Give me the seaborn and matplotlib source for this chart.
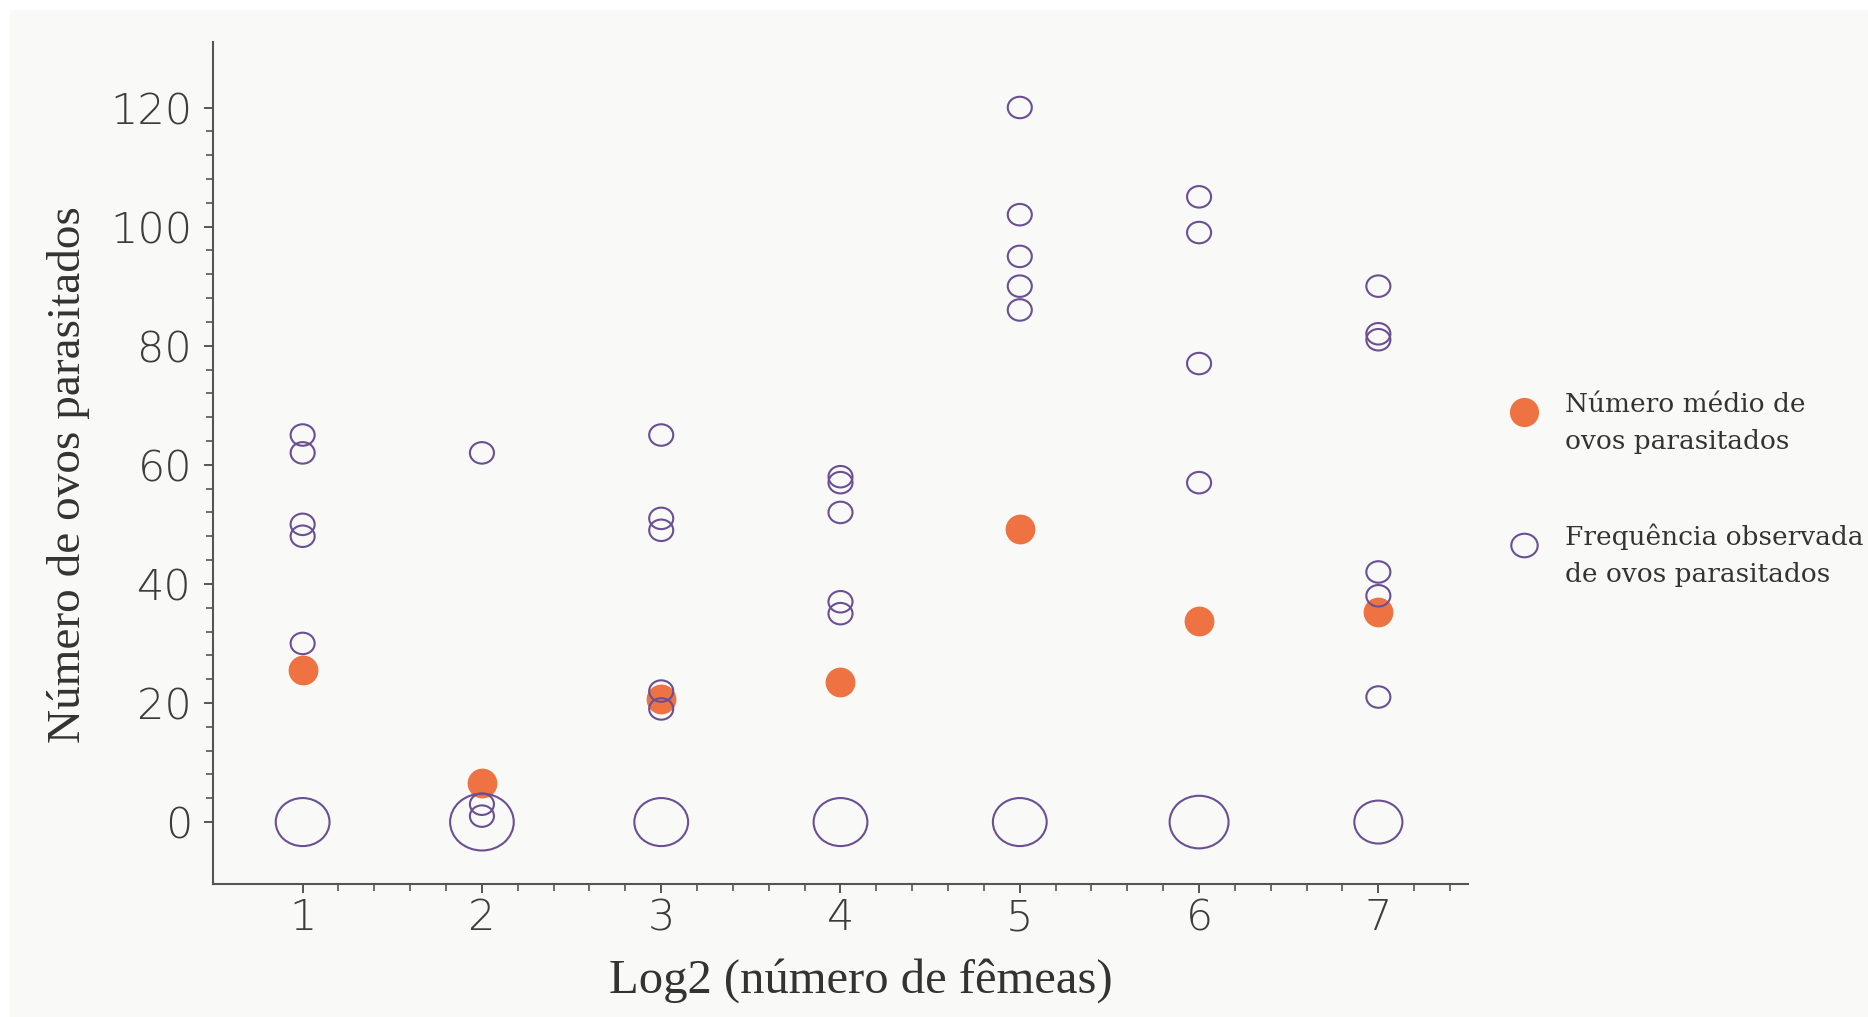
#!/usr/bin/env python3

"""Número de ovos parasitados vs Log2 (número de fêmeas) - scatter com frequências."""

import numpy as np
import pandas as pd
import seaborn as sns
import matplotlib.pyplot as plt
from matplotlib.path import Path
from matplotlib.transforms import Affine2D
from matplotlib.lines import Line2D
from matplotlib.patches import Rectangle
from matplotlib.ticker import FixedLocator

# DADOS
log2_femeas = [1, 2, 3, 4, 5, 6, 7]
media_ovos = [25.5, 6.5, 20.6, 23.6, 49.2, 33.8, 35.3]
freq_zeros = [5, 7, 5, 5, 5, 6, 4]     # quantas repetições com zero ovos

# observações não nulas (cada uma com frequência 1)
obs_x = [1, 1, 1, 1, 1,
         2, 2, 2,
         3, 3, 3, 3, 3,
         4, 4, 4, 4, 4,
         5, 5, 5, 5, 5,
         6, 6, 6, 6,
         7, 7, 7, 7, 7, 7]
obs_y = [65, 62, 50, 48, 30,
         62, 3, 1,
         65, 51, 49, 22, 19,
         58, 57, 52, 37, 35,
         120, 102, 95, 90, 86,
         105, 99, 77, 57,
         90, 82, 81, 42, 38, 21]

# textos
xlabel = "Log2 (número de fêmeas)"
ylabel = "Número de ovos parasitados"
leg_media = "Número médio de\novos parasitados"
leg_freq = "Frequência observada\nde ovos parasitados"

# CORES
roxo = "#6a4f95"
laranja = "#ee7242"
fundo = "#f9f9f7"

sns.set_theme(style="ticks")
plt.rcParams["font.family"] = ["DejaVu Sans"]

obs = pd.DataFrame({
    "x": obs_x + log2_femeas,
    "ovos": obs_y + [0] * len(log2_femeas),
    "freq": [1] * len(obs_x) + freq_zeros,
})
medias = pd.DataFrame({"x": log2_femeas, "ovos": media_ovos})

# marcador levemente elíptico (como no original)
elipse = Affine2D().scale(1.12, 1.0).transform_path(Path.unit_circle())
s_unit = 300  # área (pt^2) para frequência 1

W, H = 1868, 1017
fig = plt.figure(figsize=(W / 100, H / 100), dpi=100, facecolor="white")
fig.add_artist(Rectangle((10 / W, 0), 1, 1 - 10 / H, transform=fig.transFigure,
                         facecolor=fundo, edgecolor="none", zorder=-10))
ax = fig.add_axes([213 / W, 1 - 884 / H, 1255 / W, 842 / H])
ax.set_facecolor(fundo)

# médias (laranja, preenchido)
sns.scatterplot(data=medias, x="x", y="ovos", ax=ax, color=laranja,
                s=460, linewidth=0, legend=False, zorder=2)

# frequências observadas (círculos vazios, área ~ frequência)
sns.scatterplot(data=obs, x="x", y="ovos", size="freq", ax=ax,
                sizes=(0, 7 * s_unit), size_norm=(0, 7),
                marker=elipse, facecolor="none", edgecolor=roxo,
                linewidth=1.5, legend=False, zorder=3)

ax.set_xlim(0.5, 7.5)
ax.set_ylim(-10.4, 131)
ax.set_xticks(log2_femeas)
ax.set_yticks(range(0, 121, 20))
ax.xaxis.set_minor_locator(FixedLocator(np.arange(1, 7.45, 0.2)))
ax.yaxis.set_minor_locator(FixedLocator(np.arange(0, 121, 4)))

sns.despine(ax=ax)
for sp in ["left", "bottom"]:
    ax.spines[sp].set_linewidth(1.5)
    ax.spines[sp].set_color("#555555")

ax.tick_params(which="major", length=6.5, width=1.4, color="#555555",
               labelsize=31, labelcolor="#3c3c3c")
ax.tick_params(which="minor", length=5, width=1.2, color="#555555")
ax.tick_params(axis="y", which="major", pad=8.5)
ax.tick_params(axis="x", which="major", pad=3)
for lab in ax.get_xticklabels() + ax.get_yticklabels():
    lab.set_fontweight("light")

ax.set_xlabel(xlabel, fontfamily="Liberation Serif", fontsize=35, color="#333333")
ax.set_ylabel(ylabel, fontfamily="Liberation Serif", fontsize=34, color="#333333")
ax.xaxis.set_label_coords(0.516, -0.088)
ax.yaxis.set_label_coords(-0.098, 0.486)

# LEGENDA
handles = [
    Line2D([], [], linestyle="none", marker="o", markersize=21,
           markerfacecolor=laranja, markeredgewidth=0),
    Line2D([], [], linestyle="none", marker=elipse, markersize=19,
           markerfacecolor="none", markeredgecolor=roxo, markeredgewidth=1.5),
]
leg = fig.legend(handles, [leg_media, leg_freq], loc="upper left",
                 bbox_to_anchor=(1487 / W, 1 - 368 / H), bbox_transform=fig.transFigure,
                 frameon=False, prop={"family": "DejaVu Serif", "size": 19},
                 labelcolor="#333333", labelspacing=2.4, handlelength=1.0,
                 handleheight=3.6, handletextpad=1.05, borderpad=0.4)
for t in leg.get_texts():
    t.set_linespacing(1.62)

plt.savefig("out.png", dpi=100, facecolor=fig.get_facecolor())
